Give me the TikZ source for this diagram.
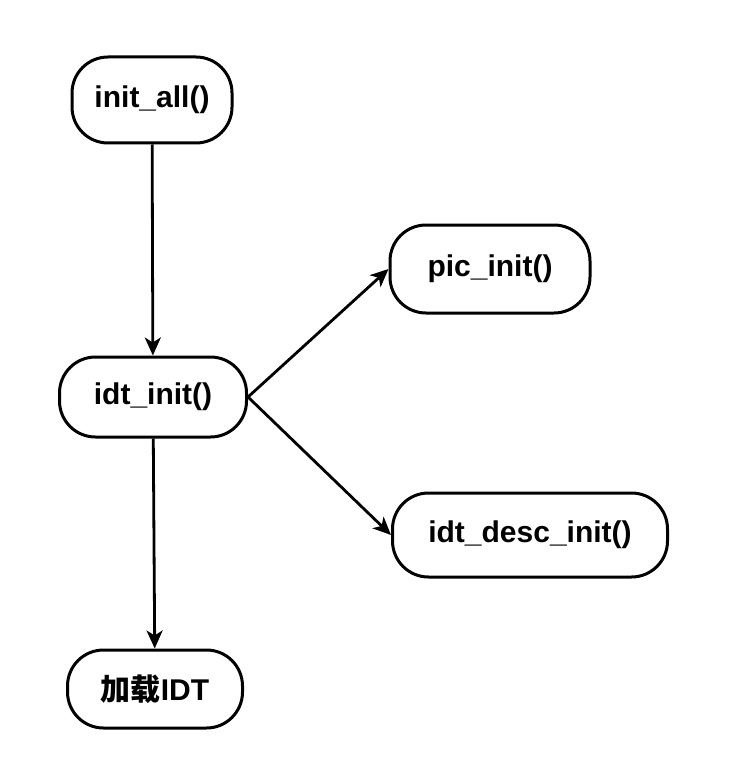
\documentclass[tikz,border=0pt]{standalone}
\usepackage{fontspec}
\setmainfont{Liberation Sans}
\newfontfamily\cjk{Noto Sans CJK SC}
\usetikzlibrary{arrows.meta}

\begin{document}
\begin{tikzpicture}[
  x=1pt,y=-1pt,
  fn/.style={draw,line width=3pt,rounded corners=36pt,fill=white,
             minimum width=#1,minimum height=84pt,inner sep=0pt,
             font=\fontsize{30}{33}\selectfont\bfseries},
  fn/.default=170pt,
  arr/.style={-{Stealth[length=18pt,width=16pt,inset=5pt]},line width=2.8pt}
]
\useasboundingbox (0,0) rectangle (734,770);

\node[fn=160pt,minimum height=86pt] (initall) at (152,100) {init\_all()};
\node[fn=187pt,minimum height=80pt] (idtinit) at (153,397) {idt\_init()};
\node[fn=175pt,minimum height=78pt] (loadidt) at (155,689) {{\cjk 加载}IDT};
\node[fn=200pt,minimum height=88pt] (picinit) at (490,269) {pic\_init()};
\node[fn=275pt] (idtdesc) at (530,535) {idt\_desc\_init()};

\draw[arr] (initall) -- (idtinit);
\draw[arr] (idtinit.east) -- (picinit.west);
\draw[arr] (idtinit.east) -- (idtdesc.west);
\draw[arr] (idtinit) -- (loadidt);
\end{tikzpicture}
\end{document}
